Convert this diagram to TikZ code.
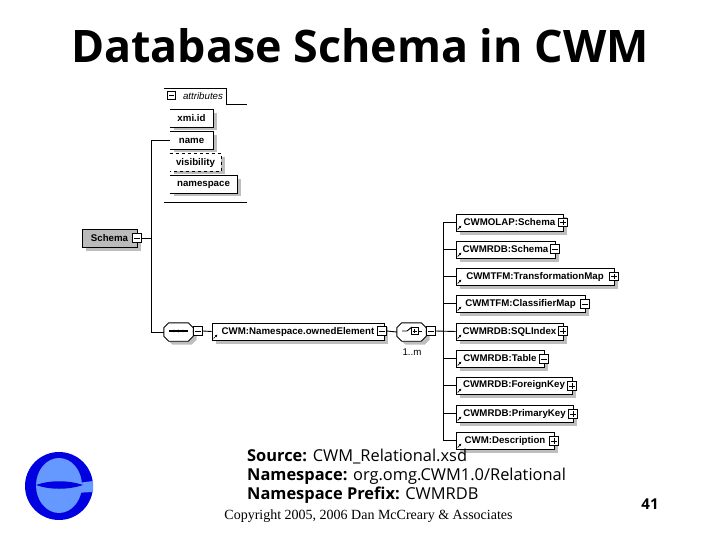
\documentclass[tikz,border=0pt]{standalone}
\usepackage{fontspec}
\setmainfont{Open Sans}
\newfontfamily\boxfont{Liberation Sans}
\newfontfamily\copyfont{Liberation Serif}
\usetikzlibrary{arrows.meta,shadows}
\definecolor{logoblue}{HTML}{0000E0}
\definecolor{logolight}{HTML}{6699FF}
\definecolor{schemagray}{HTML}{BBBBBB}
\definecolor{shadowgray}{HTML}{BEBEBE}
\newcommand{\grpoutline}[1]{([xshift=5pt]#1.north west) -- ([xshift=-5pt]#1.north east)
  -- ([yshift=-5pt]#1.north east) -- ([yshift=5pt]#1.south east)
  -- ([xshift=-5pt]#1.south east) -- ([xshift=5pt]#1.south west)
  -- ([yshift=5pt]#1.south west) -- ([yshift=-5pt]#1.north west) -- cycle}

\begin{document}
\begin{tikzpicture}[
    x=1pt,y=-1pt,
    every node/.style={inner sep=0pt},
    elem/.style={draw,line width=0.9pt,fill=white,minimum height=17pt,
                 font=\boxfont\bfseries\fontsize{9.7}{11}\selectfont,
                 general shadow={shadow xshift=3.5pt,shadow yshift=-3.5pt,fill=shadowgray}},
    refbox/.style={elem,path picture={
        \draw[-{Latex[length=2.5pt,width=2.5pt]},line width=0.7pt]
          ([shift={(1.5,-1.5)}]path picture bounding box.south west)
          -- ++(4,-4);}},
    attbox/.style={elem,draw=none},
    grpbox/.style={minimum width=29pt,minimum height=18pt},
    grpshadow/.style={fill=shadowgray,transform canvas={xshift=3.5pt,yshift=-3.5pt}},
    grpline/.style={draw,line width=0.9pt,fill=white},
    minusbox/.style={draw,line width=0.8pt,fill=white,minimum size=8.5pt,path picture={
        \draw[line width=0.8pt] ([xshift=1.5pt]path picture bounding box.west) -- ([xshift=-1.5pt]path picture bounding box.east);}},
    plusbox/.style={draw,line width=0.8pt,fill=white,minimum size=8.5pt,path picture={
        \draw[line width=0.8pt] ([xshift=1.5pt]path picture bounding box.west) -- ([xshift=-1.5pt]path picture bounding box.east);
        \draw[line width=0.8pt] ([yshift=-1.5pt]path picture bounding box.north) -- ([yshift=1.5pt]path picture bounding box.south);}},
    conn/.style={line width=0.9pt},
    slide/.style={font=\fontsize{16.4}{19}\selectfont,anchor=west},
  ]
  \useasboundingbox (0,0) rectangle (720,540);

  \node[font=\bfseries\fontsize{44.8}{50}\selectfont] (title) at (360,46) {Database Schema in CWM};

  % attributes group
  \draw[conn] (164,88) -- (226,88) -- (226,104) -- (247,104);
  \draw[conn] (164,202) -- (247,202);
  \node[minusbox] (exattr) at (171.5,95.5) {};
  \node[font=\boxfont\itshape\fontsize{9.7}{11}\selectfont] (attr) at (203,96) {attributes};

  \node[attbox,minimum width=43pt] (xmiid) at (191.5,118.5) {xmi.id};
  \node[attbox,minimum width=43pt] (name) at (191.5,140.5) {name};
  \node[attbox,minimum width=51pt] (visib) at (195.5,162.5) {visibility};
  \node[attbox,minimum width=67pt] (nspace) at (203.5,184.5) {namespace};
  \draw[conn] (xmiid.north west) -| (xmiid.south east) -- (xmiid.south west);
  \draw[conn] (name.north west) -| (name.south east) -- (name.south west);
  \draw[conn,dashed] (visib.north west) -| (visib.south east) -- (visib.south west);
  \draw[conn] (nspace.north west) -| (nspace.south east) -- (nspace.south west);

  % root element
  \node[elem,fill=schemagray,minimum width=55pt,minimum height=18pt] (schema) at (109.5,238) {Schema};
  \node[minusbox] (exschema) at (137,238) {};
  \coordinate (lbus) at (151,238);
  \draw[conn] (exschema) -- (lbus);
  \draw[conn] (name.west) -| (lbus);

  % middle row
  \node[grpbox] (seq) at (178.5,332) {};
  \fill[grpshadow] \grpoutline{seq};
  \path[grpline] \grpoutline{seq};
  \node[minusbox] (exseq) at (198,331) {};
  \node[refbox,minimum width=172pt] (owned) at (298,331.5) {CWM:Namespace.ownedElement};
  \node[minusbox] (exowned) at (382,331) {};
  \node[grpbox] (choice) at (411.5,332) {};
  \fill[grpshadow] \grpoutline{choice};
  \path[grpline] \grpoutline{choice};
  \node[minusbox] (exchoice) at (431,331) {};
  \node[font=\boxfont\fontsize{9.7}{11}\selectfont] (card) at (412,352) {1..m};
  \draw[conn] (lbus) |- (seq.west);
  \draw[conn] (seq.east) -- (exseq.west);
  \draw[conn] (exseq.east) -- (owned.west);
  \draw[conn] (exowned.east) -- (choice.west);
  \draw[conn] (choice.east) -- (exchoice.west);

  % group symbols
  \draw[line width=1.2pt] (169,331) -- (188,331);
  \fill (174,331) circle (1.4pt) (178.5,331) circle (1.4pt) (183,331) circle (1.4pt);
  \draw[line width=0.9pt] (402,331) -- (407,331) -- (412,327);
  \node[plusbox,minimum size=7pt] (swbox) at (414.5,331) {};
  \draw[line width=0.9pt] (swbox.east) -- (422,331);

  % substitution group
  \node[refbox,minimum width=107pt] (olap) at (509.5,222.5) {CWMOLAP:Schema};
  \node[plusbox] (exolap) at (563,222.5) {};
  \node[refbox,minimum width=99pt] (rdbschema) at (505.5,249.5) {CWMRDB:Schema};
  \node[minusbox] (exrdbschema) at (555,249) {};
  \node[refbox,minimum width=158pt] (tmap) at (535,276.5) {CWMTFM:TransformationMap};
  \node[plusbox] (extmap) at (614,276.5) {};
  \node[refbox,minimum width=129pt] (cmap) at (520.5,303.5) {CWMTFM:ClassifierMap};
  \node[minusbox] (excmap) at (585,304) {};
  \node[refbox,minimum width=107pt] (sqlidx) at (509.5,331.5) {CWMRDB:SQLIndex};
  \node[plusbox] (exsqlidx) at (563,331) {};
  \node[refbox,minimum width=88pt] (table) at (500,358.5) {CWMRDB:Table};
  \node[minusbox] (extable) at (544,359) {};
  \node[refbox,minimum width=116pt] (fkey) at (514,385.5) {CWMRDB:ForeignKey};
  \node[plusbox] (exfkey) at (572,386) {};
  \node[refbox,minimum width=117pt] (pkey) at (514.5,413.5) {CWMRDB:PrimaryKey};
  \node[plusbox] (expkey) at (573,414) {};
  \node[refbox,minimum width=98pt] (descr) at (505,440.5) {CWM:Description};
  \node[plusbox] (exdescr) at (554,441) {};

  \coordinate (rbus) at (443,331);
  \draw[conn] (exchoice.east) -- (sqlidx.west);
  \draw[conn] (olap.west) -| (rbus);
  \draw[conn] (rdbschema.west) -| (rbus);
  \draw[conn] (tmap.west) -| (rbus);
  \draw[conn] (cmap.west) -| (rbus);
  \draw[conn] (table.west) -| (rbus);
  \draw[conn] (fkey.west) -| (rbus);
  \draw[conn] (pkey.west) -| (rbus);
  \draw[conn] (descr.west) -| (rbus);

  % slide text
  \node[slide] (src) at (247,457) {\textbf{Source:} CWM\_Relational.xsd};
  \node[slide] (ns) at (247,476) {\textbf{Namespace:} org.omg.CWM1.0/Relational};
  \node[slide] (prefix) at (247,495) {\textbf{Namespace Prefix:} CWMRDB};
  \node[font=\copyfont\fontsize{14}{16}\selectfont] (copy) at (368.5,516) {Copyright 2005, 2006 Dan McCreary \& Associates};
  \node[font=\bfseries\fontsize{15}{17}\selectfont] (page) at (650,504) {41};

  % logo
  \fill[logoblue] (59,486) circle (34);
  \fill[logolight] (59,485.5) ellipse (23 and 27.5);
  \fill[logolight] (78,483) -- (93,481) -- (93,492) -- (74,493) -- cycle;
  \fill[logoblue] (36,485) .. controls (50,480) and (68,480) .. (83,485)
                           .. controls (68,490) and (50,490) .. (36,485) -- cycle;
\end{tikzpicture}
\end{document}
